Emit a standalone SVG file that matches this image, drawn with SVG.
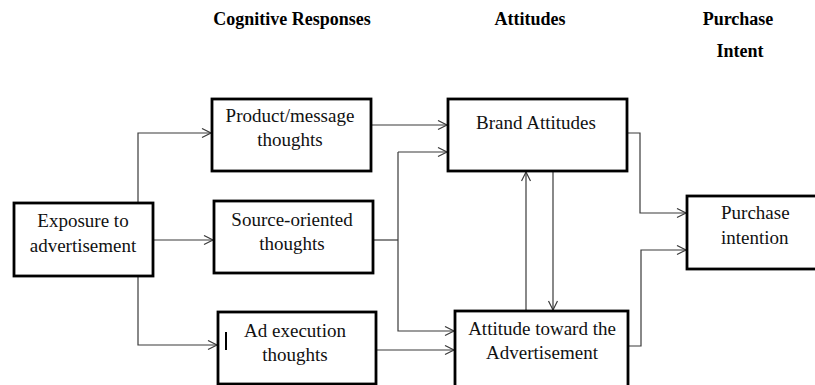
<svg xmlns="http://www.w3.org/2000/svg" width="815" height="385" viewBox="0 0 815 385">
  <defs>
    <style>
      .box { fill: #ffffff; stroke: #000000; stroke-width: 2.8; }
      .lbl { font-family: "Liberation Serif", "Times New Roman", serif; font-size: 19px; fill: #111111; text-anchor: middle; }
      .hdr { font-family: "Liberation Serif", "Times New Roman", serif; font-size: 18px; font-weight: bold; fill: #000000; text-anchor: middle; }
      .wire { fill: none; stroke: #3a3a3a; stroke-width: 1.2; }
    </style>
    <marker id="arrow" markerUnits="userSpaceOnUse" markerWidth="12" markerHeight="12" refX="10" refY="5" orient="auto">
      <path d="M1,0.5 L10,5 L1,9.5" fill="none" stroke="#3a3a3a" stroke-width="1.2"/>
    </marker>
  </defs>

  <rect width="815" height="385" fill="#ffffff"/>

  <!-- column headings -->
  <g id="headings">
    <text class="hdr" x="292" y="25">Cognitive Responses</text>
    <text class="hdr" x="530" y="25">Attitudes</text>
    <text class="hdr" x="738" y="25">Purchase</text>
    <text class="hdr" x="740" y="57">Intent</text>
  </g>

  <!-- connectors -->
  <g id="connectors" class="wire">
    <path d="M138,203 V133 H211" marker-end="url(#arrow)"/>
    <path d="M153,240 H213" marker-end="url(#arrow)"/>
    <path d="M138,276 V345 H217" marker-end="url(#arrow)"/>
    <path d="M371,125 H447" marker-end="url(#arrow)"/>
    <path d="M373,240 H398"/>
    <path d="M398,152 H447" marker-end="url(#arrow)"/>
    <path d="M398,152 V331 H454" marker-end="url(#arrow)"/>
    <path d="M376,350 H454" marker-end="url(#arrow)"/>
    <path d="M526,310 V172" marker-end="url(#arrow)"/>
    <path d="M553,171 V310" marker-end="url(#arrow)"/>
    <path d="M627,133 H640 V213 H686" marker-end="url(#arrow)"/>
    <path d="M628,346 H641 V250 H686" marker-end="url(#arrow)"/>
  </g>

  <g id="exposure">
    <rect class="box" x="14" y="203" width="139" height="73"/>
    <text class="lbl" x="83" y="227">Exposure to</text>
    <text class="lbl" x="83" y="252">advertisement</text>
  </g>

  <g id="product-thoughts">
    <rect class="box" x="212" y="99" width="159" height="72"/>
    <text class="lbl" x="290" y="122">Product/message</text>
    <text class="lbl" x="290" y="146">thoughts</text>
  </g>

  <g id="source-thoughts">
    <rect class="box" x="214" y="201" width="159" height="72"/>
    <text class="lbl" x="292" y="226">Source-oriented</text>
    <text class="lbl" x="292" y="250">thoughts</text>
  </g>

  <g id="execution-thoughts">
    <rect class="box" x="218" y="312" width="158" height="72"/>
    <line x1="226" y1="332" x2="226" y2="350" stroke="#000000" stroke-width="2"/>
    <text class="lbl" x="295" y="337">Ad execution</text>
    <text class="lbl" x="295" y="361">thoughts</text>
  </g>

  <g id="brand-attitudes">
    <rect class="box" x="448" y="99" width="179" height="72"/>
    <text class="lbl" x="536" y="129">Brand Attitudes</text>
  </g>

  <g id="ad-attitude">
    <rect class="box" x="455" y="311" width="173" height="76"/>
    <text class="lbl" x="542" y="335">Attitude toward the</text>
    <text class="lbl" x="542" y="359">Advertisement</text>
  </g>

  <g id="purchase-intention">
    <rect class="box" x="687" y="196" width="135" height="73"/>
    <text class="lbl" x="721" y="219" style="text-anchor:start">Purchase</text>
    <text class="lbl" x="721" y="244" style="text-anchor:start">intention</text>
  </g>
</svg>
